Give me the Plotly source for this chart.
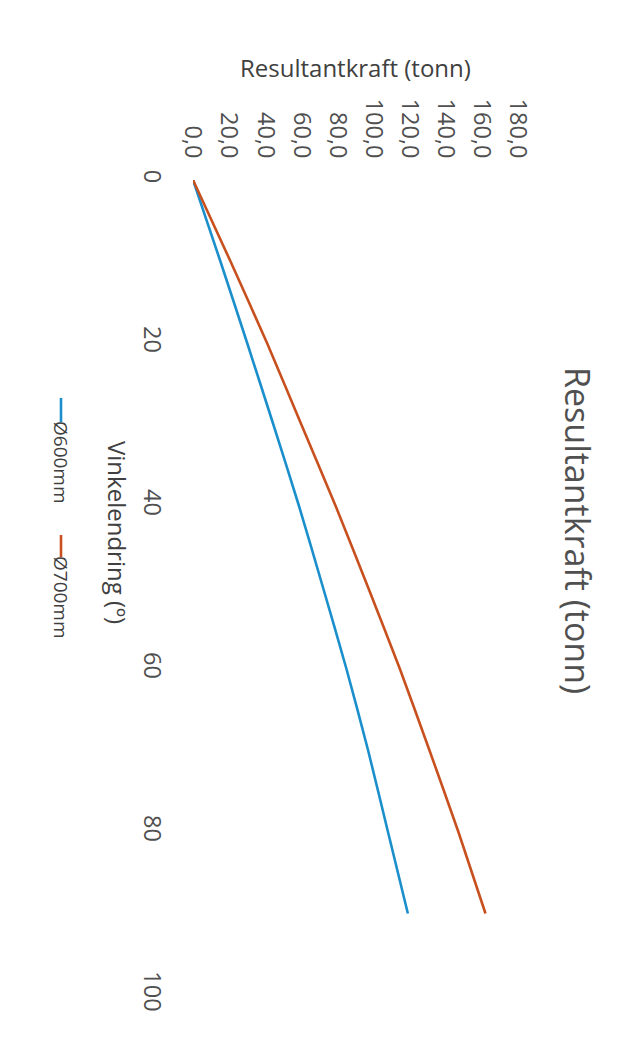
import plotly.graph_objects as go

# Data
angle = [0, 10, 20, 30, 40, 50, 60, 70, 80, 90]
force_600 = [0, 15.2, 30.0, 44.5, 58.7, 72.0, 85.0, 97.0, 108.0, 119.0]
force_700 = [0, 20.8, 41.0, 60.0, 79.0, 97.0, 114.6, 131.0, 147.0, 162.0]
series_names = ["Ø600mm", "Ø700mm"]
colors = ["#1b8fcc", "#c8501e"]
force_ticks = [0, 20, 40, 60, 80, 100, 120, 140, 160, 180]
angle_ticks = [0, 20, 40, 60, 80, 100]

W, H = 628, 1052
L, R, T, B = 193, 518, 180, 995  # plot area in pixels

def px(x):
    return (x - L) / (R - L)

def py(y):
    return (B - y) / (B - T)

FONT = "Open Sans"
TXT = "#404040"

fig = go.Figure()
for vals, name, c in zip([force_600, force_700], series_names, colors):
    fig.add_trace(go.Scatter(x=vals, y=angle, mode="lines", name=name,
                             line=dict(color=c, width=2.6, shape="spline", smoothing=0.6),
                             showlegend=False))

fig.update_layout(
    width=W, height=H,
    margin=dict(l=L, r=W - R, t=T, b=H - B),
    paper_bgcolor="white", plot_bgcolor="white",
    separators=",.",
    font=dict(family=FONT, color=TXT),
    xaxis=dict(range=[0, 180], side="top", tickvals=force_ticks, tickformat=".1f",
               tickangle=90, showgrid=False, zeroline=False, showline=False,
               ticks="", tickfont=dict(size=23.5, color="#505050"),
               ticklabelstandoff=17),
    yaxis=dict(range=[100, 0], tickvals=angle_ticks, tickangle=90,
               showgrid=False, zeroline=False, showline=False, ticks="",
               tickfont=dict(size=23.5, color="#505050"), ticklabelstandoff=24),
)

def note(text, x, y, size, angle=0, color=TXT):
    return dict(text=text, x=px(x), y=py(y), xref="paper", yref="paper",
                xanchor="center", yanchor="middle", textangle=angle,
                showarrow=False, font=dict(size=size, color=color))

ann = [
    note("Resultantkraft (tonn)", 578, 530, 34, 90, "#505050"),
    note("Resultantkraft (tonn)", 355, 68, 24),
    note("Vinkelendring (º)", 118, 532, 24, 90),
]
# legend
leg = [(398, 422, 462), (535, 557, 597)]
shapes = []
for (y0, y1, yc), name, c in zip(leg, series_names, colors):
    shapes.append(dict(type="line", xref="paper", yref="paper", x0=px(61), x1=px(61),
                       y0=py(y0), y1=py(y1), line=dict(color=c, width=2.6)))
    ann.append(note(name, 61, yc, 19, 90))

fig.update_layout(annotations=ann, shapes=shapes)
fig.write_html("out.html")
